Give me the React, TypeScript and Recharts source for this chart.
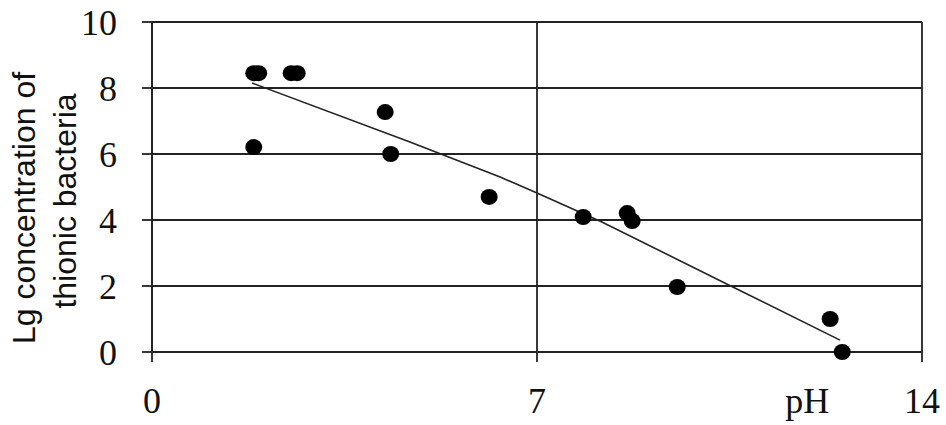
import { ScatterChart, Scatter, XAxis, YAxis, CartesianGrid } from "recharts";

// measured points (pH, lg concentration)
const phValues = [1.85, 1.94, 2.53, 2.64, 1.85, 4.24, 4.34, 6.13, 7.84, 8.64, 8.73, 9.55, 12.33, 12.55];
const lgValues = [8.45, 8.45, 8.45, 8.45, 6.21, 7.27, 6.0, 4.7, 4.09, 4.21, 3.97, 1.97, 1.0, 0.0];

// trend curve
const trendPh = [1.82, 4.69, 6.33, 7.0, 8.18, 10.56, 12.51];
const trendLg = [8.15, 6.36, 5.3, 4.82, 3.94, 1.97, 0.36];

const xTicks = [0, 7, 14];
const yTicks = [0, 2, 4, 6, 8, 10];

const points = phValues.map((x, i) => ({ x, y: lgValues[i] }));
const trend = trendPh.map((x, i) => ({ x, y: trendLg[i] }));

const INK = "#222";
const SERIF = "'Liberation Serif', 'Times New Roman', serif";
const SANS = "'Liberation Sans', Arial, sans-serif";

const Dot = (props: any) => <ellipse cx={props.cx} cy={props.cy} rx={8.5} ry={8} fill="#000" />;

const YLabel = ({ viewBox }: any) => {
  const mid = viewBox.y + viewBox.height / 2;
  return (
    <g fontFamily={SANS} fontSize={32} fill="#111">
      <text x={35} y={mid + 21} textAnchor="middle" transform={`rotate(-90, 35, ${mid + 21})`}>
        Lg concentration of
      </text>
      <text x={76} y={mid + 14} textAnchor="middle" transform={`rotate(-90, 76, ${mid + 14})`}>
        thionic bacteria
      </text>
    </g>
  );
};

const XLabel = ({ viewBox }: any) => (
  <text x={viewBox.x + viewBox.width * 0.851} y={413} textAnchor="middle" fontFamily={SERIF} fontSize={36} fill="#111">
    pH
  </text>
);

export default function App() {
  return (
    <div style={{ position: "absolute", left: 0, top: 0, background: "#fff" }}>
      <ScatterChart width={946} height={425} margin={{ top: 22, right: 24, left: 0, bottom: 0 }}>
        <CartesianGrid stroke={INK} strokeWidth={1.8} />
        <XAxis
          type="number"
          dataKey="x"
          domain={[0, 14]}
          ticks={xTicks}
          height={73}
          tickSize={10}
          tickMargin={25}
          stroke={INK}
          axisLine={{ stroke: INK, strokeWidth: 1.8 }}
          tickLine={{ stroke: INK, strokeWidth: 1.8 }}
          tick={{ fontSize: 36, fontFamily: SERIF, fill: "#111" }}
          label={<XLabel />}
        />
        <YAxis
          type="number"
          dataKey="y"
          domain={[0, 10]}
          ticks={yTicks}
          width={152}
          tickSize={10}
          tickMargin={25}
          stroke={INK}
          axisLine={{ stroke: INK, strokeWidth: 1.8 }}
          tickLine={{ stroke: INK, strokeWidth: 1.8 }}
          tick={{ fontSize: 36, fontFamily: SERIF, fill: "#111" }}
          label={<YLabel />}
        />
        <Scatter
          data={trend}
          line={{ stroke: INK, strokeWidth: 1.6 }}
          shape={() => <g />}
          isAnimationActive={false}
        />
        <Scatter data={points} shape={Dot} isAnimationActive={false} />
      </ScatterChart>
    </div>
  );
}
